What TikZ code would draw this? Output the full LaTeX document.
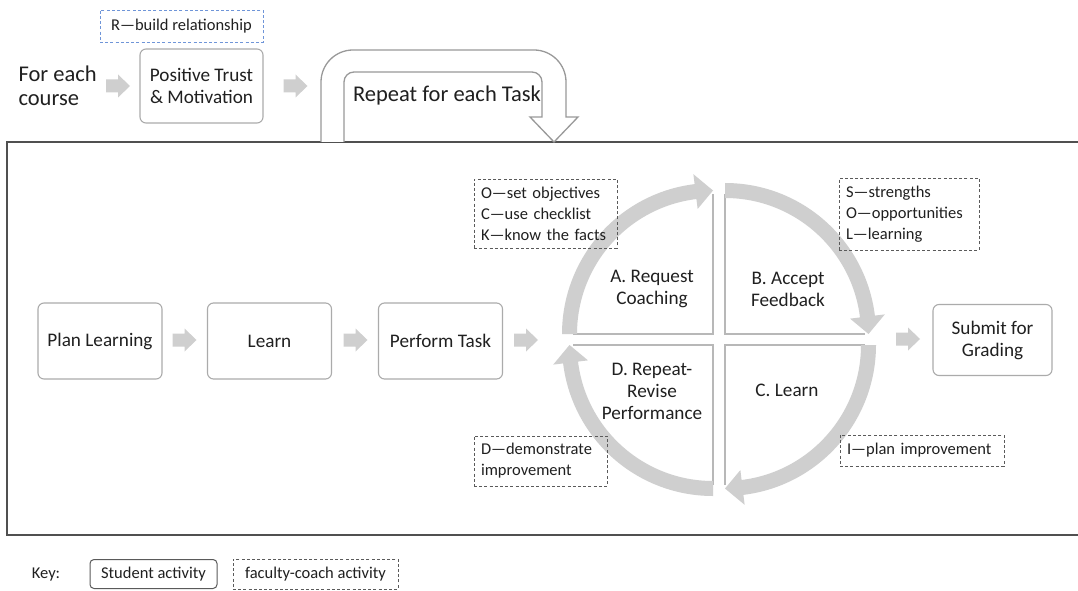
\documentclass[tikz,border=0pt]{standalone}
\usepackage{fontspec}
\setmainfont{Carlito}
\usetikzlibrary{calc}
\definecolor{bandgray}{HTML}{CFCFCF}
\definecolor{edgegray}{HTML}{B8B8B8}
\definecolor{boxgray}{HTML}{ABABAB}
\definecolor{txt}{HTML}{202020}
\definecolor{dashgray}{HTML}{5A5A5A}
\definecolor{rblue}{HTML}{6F95D8}
\definecolor{framegray}{HTML}{505050}
\newcommand{\mainsz}{\fontsize{19.2}{22}\selectfont}
\newcommand{\smallsz}{\fontsize{16.5}{21}\selectfont}
\newcommand{\bigsz}{\fontsize{22.5}{24.5}\selectfont}
\newcommand{\quadarr}[3]{%
  \pgfmathsetmacro\qbase{#3+7}%
  \draw[qedge] ($(#1)+(#2:140)$) -- (#1) -- ($(#1)+(#3:140)$);
  \fill[band] ($(#1)+(#2:151)$) arc[start angle=#2, end angle=\qbase, radius=151]
    -- ($(#1)+(\qbase:161)$) -- ($(#1)+(#3:143.5)$) -- ($(#1)+(\qbase:126)$)
    -- ($(#1)+(\qbase:136)$) arc[start angle=\qbase, end angle=#2, radius=136] -- cycle;
}
\newcommand{\blkarrow}[1]{%
  \fill[band] ([shift={(-12,-6.5)}]#1) -- ([shift={(0,-6.5)}]#1) -- ([shift={(0,-11.5)}]#1)
    -- ([shift={(12,0)}]#1) -- ([shift={(0,11.5)}]#1) -- ([shift={(0,6.5)}]#1)
    -- ([shift={(-12,6.5)}]#1) -- cycle;
}
\tikzset{
  sbox/.style={draw=boxgray, line width=1.1pt, rounded corners=6pt, fill=white,
    align=center, font=\mainsz, text=txt, inner sep=0pt},
  cbox/.style={draw=dashgray, dash pattern=on 3pt off 2.2pt, line width=0.9pt,
    align=left, font=\smallsz, text=txt, inner xsep=7pt, inner ysep=0pt},
  band/.style={fill=bandgray},
  qedge/.style={draw=edgegray, line width=2pt},
  qlabel/.style={align=center, font=\mainsz, text=txt},
}
\begin{document}
\begin{tikzpicture}[x=1pt,y=1pt]
\useasboundingbox (0,0) rectangle (1078,590);
\fill[white] (0,0) rectangle (1078,590);

% frame
\draw[framegray, line width=2.8pt] (7,55) rectangle (1095,448);

% top row
\node[anchor=west, align=left, font=\bigsz, text=txt] (course) at (15,504) {For each\\course};
\coordinate (a0) at (118,504);
\blkarrow{a0}
\node[sbox, minimum width=123pt, minimum height=74pt] (trust) at (201.5,504) {Positive Trust\\\& Motivation};
\node[cbox, draw=rblue, minimum width=163pt, minimum height=32pt, align=center] (rel) at (181.5,564) {R—build relationship};
\coordinate (a1) at (295.5,504);
\blkarrow{a1}

% repeat loop arrow
\draw[draw=black!40, line width=1.3pt, fill=white]
  (321,448) -- (321,508) arc[start angle=180, end angle=90, radius=32]
  -- (534,540) arc[start angle=90, end angle=0, radius=32]
  -- (566,473) -- (578,473) -- (554,448) -- (530,473) -- (542,473)
  -- (542,508) arc[start angle=0, end angle=90, radius=10]
  -- (354,518) arc[start angle=90, end angle=180, radius=10]
  -- (344,448);
\node[font=\bigsz, text=txt] (repeat) at (447,494) {Repeat for each Task};

% main row
\node[sbox, minimum width=124pt, minimum height=76pt] (plan) at (100,249) {Plan Learning};
\coordinate (b1) at (184.5,250);
\blkarrow{b1}
\node[sbox, minimum width=124pt, minimum height=76pt] (learn) at (269.5,249) {Learn};
\coordinate (b2) at (355.5,250);
\blkarrow{b2}
\node[sbox, minimum width=124pt, minimum height=76pt] (perform) at (440.5,249) {Perform Task};
\coordinate (b3) at (526,250);
\blkarrow{b3}
\coordinate (b4) at (908,251);
\blkarrow{b4}
\node[sbox, minimum width=119pt, minimum height=71pt] (submit) at (992.5,250) {Submit for\\Grading};

% cycle
\coordinate (qa) at (713,256);
\coordinate (qb) at (725,256);
\coordinate (qc) at (725,245);
\coordinate (qd) at (713,245);
\quadarr{qa}{180}{90}
\quadarr{qb}{90}{0}
\quadarr{qc}{0}{-90}
\quadarr{qd}{-90}{-180}
\node[qlabel] (la) at (652,301) {A. Request\\Coaching};
\node[qlabel] (lb) at (788,301) {B. Accept\\Feedback};
\node[qlabel] (lc) at (787,200) {C. Learn};
\node[qlabel] (ld) at (652,199) {D. Repeat-\\Revise\\Performance};

% coach boxes
\node[cbox, text width=129pt, minimum height=69pt] (ock) at (545.5,376.5) {O—set objectives\\C—use checklist\\K—know the facts};
\node[cbox, text width=126pt, minimum height=72pt] (sol) at (909,376) {S—strengths\\O—opportunities\\L—learning};
\node[cbox, text width=119pt, minimum height=50pt] (dem) at (540.5,129) {D—demonstrate\\improvement};
\node[cbox, text width=150pt, minimum height=31pt] (imp) at (922,139.5) {I—plan improvement};

% key
\node[font=\smallsz, text=txt] (key) at (46,15) {Key:};
\node[sbox, draw=dashgray, line width=1pt, rounded corners=4pt, font=\smallsz, minimum width=127pt, minimum height=29pt] (kstud) at (153.5,16) {Student activity};
\node[cbox, minimum width=165pt, minimum height=30pt, align=center] (kfac) at (315.5,16) {faculty-coach activity};
\end{tikzpicture}
\end{document}
